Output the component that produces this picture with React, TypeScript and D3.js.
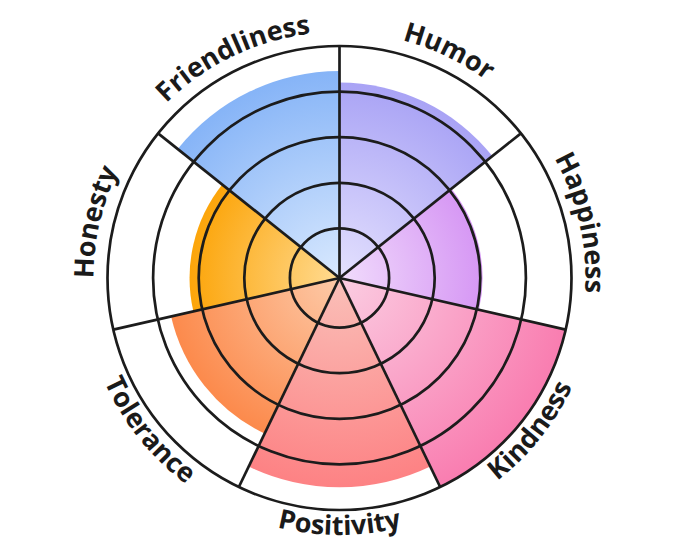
import { useEffect, useRef } from "react"
import * as d3 from "d3"

const categories = ["Humor", "Happiness", "Kindness", "Positivity", "Tolerance", "Honesty", "Friendliness"]
const values = [4.2, 3.05, 5, 4.5, 3.7, 3.2, 4.45]
const innerColors = ["#e4e1fe", "#f1dcfc", "#fbcde2", "#fac0b9", "#fdcaa8", "#ffdb92", "#d9e9fe"]
const outerColors = ["#a9a3f5", "#d697f4", "#f97db0", "#fd8284", "#fc8a4c", "#fca50a", "#86b4f7"]
const ringLevels = [1, 2, 3, 4, 5]

export default function App() {
  const svgRef = useRef<SVGSVGElement>(null)

  useEffect(() => {
    if (!svgRef.current) return
    const svg = d3.select(svgRef.current)
    svg.selectAll("*").remove()

    const width = 680
    const height = 557
    const cx = 339.5
    const cy = 278
    const stroke = "#1c1c1c"

    svg.attr("width", width).attr("height", height)

    const rScale = d3.scaleLinear().domain([0, 5]).range([4, 232])
    const outer = rScale(5)
    const slice = (Math.PI * 2) / categories.length

    const defs = svg.append("defs")
    const g = svg.append("g").attr("transform", `translate(${cx},${cy})`)

    // gradients, one per sector
    categories.forEach((_, i) => {
      const grad = defs
        .append("radialGradient")
        .attr("id", `grad${i}`)
        .attr("gradientUnits", "userSpaceOnUse")
        .attr("cx", 0)
        .attr("cy", 0)
        .attr("r", rScale(values[i]))
      grad.append("stop").attr("offset", "0%").attr("stop-color", innerColors[i])
      grad.append("stop").attr("offset", "100%").attr("stop-color", outerColors[i])
    })

    const arc = d3.arc<any>()

    // sector fills
    categories.forEach((_, i) => {
      g.append("path")
        .attr(
          "d",
          arc({
            innerRadius: 0,
            outerRadius: rScale(values[i]),
            startAngle: slice * i,
            endAngle: slice * (i + 1),
          })
        )
        .style("fill", `url(#grad${i})`)
    })

    // rings
    ringLevels.forEach((lv) => {
      g.append("circle")
        .attr("r", rScale(lv))
        .style("fill", "none")
        .style("stroke", stroke)
        .style("stroke-width", 2.7)
    })

    // spokes
    categories.forEach((_, i) => {
      const a = slice * i
      g.append("line")
        .attr("x1", 0)
        .attr("y1", 0)
        .attr("x2", Math.sin(a) * outer)
        .attr("y2", -Math.cos(a) * outer)
        .style("stroke", stroke)
        .style("stroke-width", 2.7)
    })

    // curved labels
    const pt = (a: number, r: number) => `${r * Math.sin(a)},${-r * Math.cos(a)}`
    categories.forEach((name, i) => {
      const mid = slice * (i + 0.5)
      const bottom = mid > Math.PI / 2 && mid < (Math.PI * 3) / 2
      const r = bottom ? 257 : 246
      const d = bottom
        ? `M${pt(mid + 1, r)} A${r},${r} 0 0 0 ${pt(mid - 1, r)}`
        : `M${pt(mid - 1, r)} A${r},${r} 0 0 1 ${pt(mid + 1, r)}`
      defs.append("path").attr("id", `lp${i}`).attr("d", d)

      g.append("text")
        .style("font-family", "'Open Sans', sans-serif")
        .style("font-size", "27px")
        .style("font-weight", "700")
        .style("fill", "#1a1a1a")
        .append("textPath")
        .attr("href", `#lp${i}`)
        .attr("startOffset", "50%")
        .attr("text-anchor", "middle")
        .text(name)
    })
  }, [])

  return (
    <div style={{ position: "absolute", left: 0, top: 0, background: "#fff" }}>
      <svg ref={svgRef} style={{ display: "block" }} />
    </div>
  )
}
